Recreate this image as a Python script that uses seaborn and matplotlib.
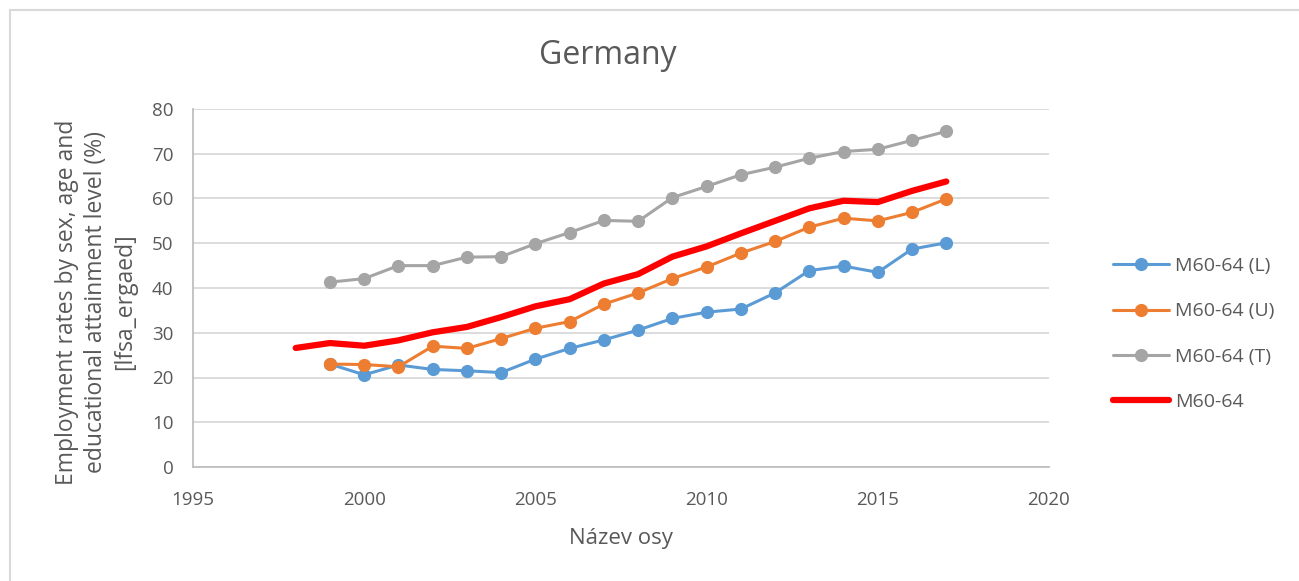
import numpy as np
import pandas as pd
import seaborn as sns
import matplotlib.pyplot as plt
from matplotlib.patches import Rectangle

years = [1999, 2000, 2001, 2002, 2003, 2004, 2005, 2006, 2007, 2008,
         2009, 2010, 2011, 2012, 2013, 2014, 2015, 2016, 2017]
years_total = [1998] + years

low = [23.0, 20.6, 22.8, 21.8, 21.5, 21.1, 24.1, 26.5, 28.4, 30.6,
       33.2, 34.6, 35.3, 38.9, 43.9, 44.9, 43.5, 48.7, 50.1]
upper = [23.0, 22.9, 22.4, 27.0, 26.5, 28.7, 31.0, 32.5, 36.4, 38.9,
         42.1, 44.7, 47.8, 50.4, 53.6, 55.6, 55.0, 56.9, 59.9]
tertiary = [41.3, 42.1, 45.0, 45.0, 46.9, 47.0, 49.9, 52.4, 55.1, 54.9,
            60.2, 62.7, 65.3, 67.0, 69.0, 70.5, 71.0, 73.0, 75.0]
total = [26.6, 27.7, 27.1, 28.3, 30.1, 31.3, 33.5, 35.9, 37.5, 41.0, 43.1,
         47.0, 49.3, 52.2, 55.0, 57.8, 59.5, 59.2, 61.7, 63.8]

labels = ["M60-64 (L)", "M60-64 (U)", "M60-64 (T)", "M60-64"]
colors = ["#5B9BD5", "#ED7D31", "#A5A5A5", "#FF0000"]
text_col = "#595959"

sns.set_theme(style="white")
plt.rcParams['font.family'] = ['Open Sans', 'DejaVu Sans']

fig = plt.figure(figsize=(12.99, 5.81), dpi=100)
ax = fig.add_axes([193/1299, 1-467/581, (1049-193)/1299, (467-109)/581])

# outer chart border
fig.patches.append(Rectangle((10/1299, -0.1), 1.2, (581-10)/581 + 0.1, transform=fig.transFigure,
                             fill=False, edgecolor="#D9D9D9", linewidth=1.5))

for vals, lab, c in zip([low, upper, tertiary], labels[:3], colors[:3]):
    df = pd.DataFrame({"year": years, "value": vals})
    sns.lineplot(data=df, x="year", y="value", ax=ax, color=c, linewidth=2.2,
                 marker="o", markersize=9.5, markeredgewidth=0, label=lab)

df_t = pd.DataFrame({"year": years_total, "value": total})
sns.lineplot(data=df_t, x="year", y="value", ax=ax, color=colors[3], linewidth=4.5,
             label=labels[3], solid_capstyle="round", solid_joinstyle="round")

ax.set_xlim(1995, 2020)
ax.set_ylim(0, 80)
ax.set_xticks(np.arange(1995, 2021, 5))
ax.set_yticks(np.arange(0, 81, 10))
ax.yaxis.grid(True, color="#D9D9D9", linewidth=1.3)
ax.set_axisbelow(True)
sns.despine(ax=ax, top=True, right=True)
for s in ["left", "bottom"]:
    ax.spines[s].set_color("#BFBFBF")
    ax.spines[s].set_linewidth(1.3)
ax.tick_params(axis="both", colors=text_col, labelsize=13.5, length=0)
ax.tick_params(axis="y", pad=14)
ax.tick_params(axis="x", pad=17)

ax.set_xlabel("Název osy", fontsize=16, color=text_col, labelpad=14)
ax.set_ylabel("Employment rates by sex, age and\neducational attainment level (%)\n[lfsa_ergaed]",
              fontsize=16.5, color=text_col, linespacing=1.3)
ax.yaxis.set_label_coords(-0.065, 0.461)

fig.text(608/1299, 1-55/581, "Germany", ha="center", va="center", fontsize=23, color=text_col)

ax.legend(loc="center left", bbox_to_anchor=(1113/1299, 1-334/581), bbox_transform=fig.transFigure,
          frameon=False, fontsize=14, handlelength=2.9, handletextpad=0.3, labelspacing=1.4,
          borderpad=0, borderaxespad=0, labelcolor=text_col)

fig.savefig("out.png", dpi=100)
